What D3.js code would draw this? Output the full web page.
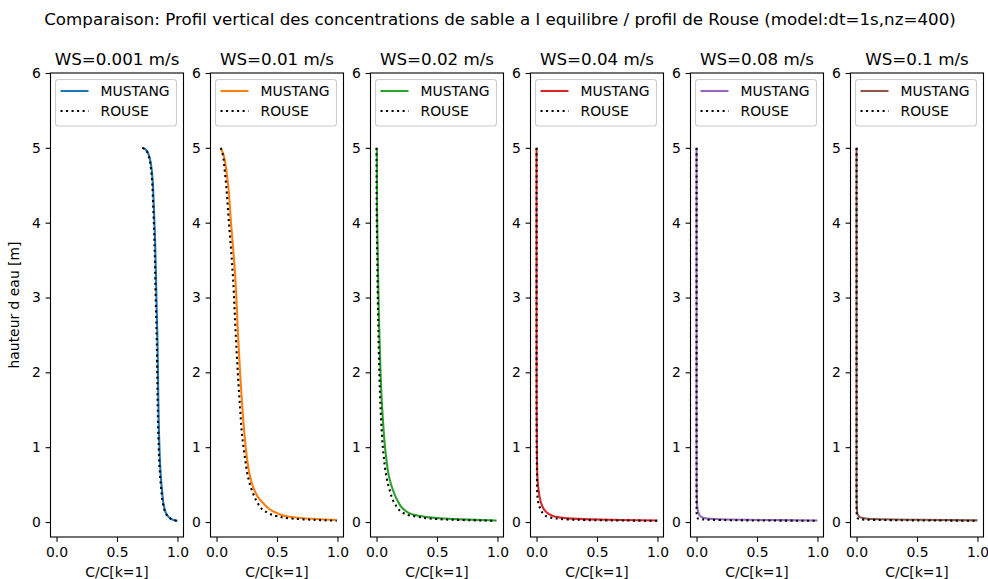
<!DOCTYPE html>
<html>
<head>
<meta charset="utf-8">
<script src="https://cdn.jsdelivr.net/npm/d3@7"></script>
<style>
  html, body { margin: 0; padding: 0; background: #fff; }
  svg { display: block; font-family: "DejaVu Sans", sans-serif; }
</style>
</head>
<body>
<svg id="chart" width="988" height="579"></svg>
<script>
// Settling velocities (one panel each) and line colours
const wsLabels = ["WS=0.001 m/s", "WS=0.01 m/s", "WS=0.02 m/s", "WS=0.04 m/s", "WS=0.08 m/s", "WS=0.1 m/s"];
const seriesColors = ["#1f77b4", "#ff7f0e", "#2ca02c", "#d62728", "#9467bd", "#8c564b"];
const xTicks = [0.0, 0.5, 1.0];
const yTicks = [0, 1, 2, 3, 4, 5, 6];
const legendLabels = ["MUSTANG", "ROUSE"];

// Profiles as [C/C[k=1], height (m)] pairs, surface to bed
const mustang_001 = [[0.709,5.0],[0.735,4.98],[0.764,4.9],[0.79,4.66],[0.805,4.2],[0.815,3.77],[0.826,3.0],[0.835,2.4],[0.842,1.6],[0.849,1.1],[0.859,0.7],[0.872,0.43],[0.888,0.22],[0.908,0.11],[0.932,0.06],[0.962,0.03],[1.0,0.015]];
const rouse_001   = [[0.709,5.0],[0.733,4.98],[0.76,4.9],[0.785,4.66],[0.8,4.2],[0.809,3.77],[0.82,3.0],[0.829,2.4],[0.836,1.6],[0.843,1.1],[0.853,0.7],[0.866,0.43],[0.884,0.22],[0.905,0.11],[0.93,0.06],[0.962,0.03],[1.0,0.015]];

const mustang_01 = [[0.035,5.0],[0.055,4.92],[0.084,4.66],[0.12,3.99],[0.153,3.32],[0.18,2.43],[0.213,1.54],[0.235,1.1],[0.252,0.85],[0.272,0.65],[0.3,0.48],[0.34,0.34],[0.387,0.25],[0.44,0.17],[0.498,0.12],[0.6,0.07],[0.718,0.05],[0.994,0.027]];
const rouse_01   = [[0.035,5.0],[0.05,4.92],[0.07,4.66],[0.103,3.99],[0.134,3.32],[0.161,2.43],[0.194,1.54],[0.215,1.1],[0.236,0.85],[0.258,0.62],[0.291,0.43],[0.335,0.27],[0.387,0.16],[0.44,0.11],[0.498,0.08],[0.6,0.05],[0.718,0.036],[0.994,0.017]];

const mustang_02 = [[0.002,5.0],[0.004,4.2],[0.008,3.77],[0.025,2.43],[0.046,1.54],[0.079,0.87],[0.104,0.6],[0.135,0.43],[0.175,0.28],[0.232,0.16],[0.3,0.1],[0.397,0.07],[0.55,0.047],[0.70,0.036],[0.99,0.02]];
const rouse_02   = [[0.0,5.0],[0.001,4.2],[0.004,3.77],[0.017,2.43],[0.033,1.54],[0.06,0.87],[0.08,0.62],[0.108,0.43],[0.15,0.25],[0.204,0.14],[0.27,0.09],[0.342,0.07],[0.5,0.04],[0.70,0.027],[0.99,0.017]];

const mustang_04 = [[0.0,5.0],[0.0,3.0],[0.001,1.5],[0.003,1.0],[0.006,0.65],[0.015,0.45],[0.025,0.34],[0.045,0.22],[0.066,0.16],[0.1,0.11],[0.149,0.075],[0.25,0.05],[0.45,0.035],[0.7,0.027],[1.0,0.02]];
const rouse_04   = [[0.0,5.0],[0.0,2.0],[0.001,1.1],[0.003,0.7],[0.005,0.43],[0.015,0.25],[0.038,0.16],[0.06,0.1],[0.093,0.07],[0.15,0.05],[0.3,0.032],[0.6,0.022],[1.0,0.017]];

const mustang_08 = [[0.0,5.0],[0.0,1.0],[0.001,0.5],[0.003,0.3],[0.006,0.2],[0.012,0.14],[0.03,0.08],[0.06,0.055],[0.15,0.04],[0.4,0.03],[0.7,0.025],[1.0,0.02]];
const rouse_08   = [[0.0,5.0],[0.0,0.5],[0.0,0.2],[0.001,0.12],[0.003,0.08],[0.01,0.05],[0.03,0.038],[0.2,0.027],[0.6,0.02],[1.0,0.017]];

const mustang_1 = [[0.0,5.0],[0.0,0.5],[0.002,0.2],[0.006,0.12],[0.02,0.075],[0.05,0.055],[0.15,0.04],[0.5,0.03],[1.0,0.022]];
const rouse_1   = [[0.0,5.0],[0.0,0.3],[0.001,0.1],[0.006,0.06],[0.02,0.04],[0.1,0.03],[0.5,0.022],[1.0,0.017]];

const mustangSeries = [mustang_001, mustang_01, mustang_02, mustang_04, mustang_08, mustang_1];
const rouseSeries = [rouse_001, rouse_01, rouse_02, rouse_04, rouse_08, rouse_1];

const svg = d3.select("#chart");
const FS = 13.9;          // tick/legend font size (10pt)
const TFS = 16.7;         // title font size (12pt)
const panelTop = 73, panelBottom = 537, panelW = 133;
const tickLen = 4.86, lw = 2.08;

svg.append("text")
  .attr("x", 500).attr("y", 25)
  .attr("text-anchor", "middle")
  .attr("font-size", TFS)
  .text("Comparaison: Profil vertical des concentrations de sable a l equilibre / profil de Rouse (model:dt=1s,nz=400)");

const y = d3.scaleLinear().domain([-0.2, 6]).range([panelBottom, panelTop]);

wsLabels.forEach((label, i) => {
  const left = 50.5 + 160 * i;
  const x = d3.scaleLinear().domain([-0.05, 1.05]).range([left, left + panelW]);
  const g = svg.append("g");

  // curves (height decreases monotonically along each profile)
  const line = d3.line().x(d => x(d[0])).y(d => y(d[1])).curve(d3.curveMonotoneY);
  g.append("path").datum(mustangSeries[i])
    .attr("d", line).attr("fill", "none")
    .attr("stroke", seriesColors[i]).attr("stroke-width", lw);
  g.append("path").datum(rouseSeries[i])
    .attr("d", line).attr("fill", "none")
    .attr("stroke", "#000").attr("stroke-width", lw)
    .attr("stroke-dasharray", "2.08,3.44");

  // axes
  const xAxis = d3.axisBottom(x).tickValues(xTicks).tickFormat(d3.format(".1f"))
    .tickSize(tickLen).tickPadding(4.86);
  const yAxis = d3.axisLeft(y).tickValues(yTicks).tickFormat(d3.format("d"))
    .tickSize(tickLen).tickPadding(4.86);
  const gx = g.append("g").attr("transform", `translate(0,${panelBottom})`).call(xAxis);
  const gy = g.append("g").attr("transform", `translate(${left},0)`).call(yAxis);
  [gx, gy].forEach(a => {
    a.select(".domain").remove();
    a.selectAll("line").attr("stroke", "#000").attr("stroke-width", 1.1);
    a.selectAll("text").attr("font-size", FS).attr("fill", "#000")
      .attr("font-family", "DejaVu Sans, sans-serif");
  });

  // frame
  g.append("rect")
    .attr("x", left).attr("y", panelTop)
    .attr("width", panelW).attr("height", panelBottom - panelTop)
    .attr("fill", "none").attr("stroke", "#000").attr("stroke-width", 1.1);

  // panel title
  g.append("text")
    .attr("x", left + panelW / 2).attr("y", 65)
    .attr("text-anchor", "middle").attr("font-size", TFS)
    .text(label);

  // x label
  g.append("text")
    .attr("x", left + panelW / 2).attr("y", 577)
    .attr("text-anchor", "middle").attr("font-size", FS)
    .text("C/C[k=1]");

  // legend
  const lg = g.append("g").attr("transform", `translate(${left + 5},79.5)`);
  lg.append("rect")
    .attr("width", 121).attr("height", 46.5).attr("rx", 3)
    .attr("fill", "#fff").attr("fill-opacity", 0.8)
    .attr("stroke", "#cccccc").attr("stroke-width", 1.1);
  legendLabels.forEach((t, k) => {
    const ly = 11.5 + k * 20;
    lg.append("line")
      .attr("x1", 5).attr("x2", 33).attr("y1", ly).attr("y2", ly)
      .attr("stroke", k === 0 ? seriesColors[i] : "#000")
      .attr("stroke-width", lw)
      .attr("stroke-dasharray", k === 0 ? null : "2.08,3.44");
    lg.append("text")
      .attr("x", 45).attr("y", ly + 5)
      .attr("font-size", FS)
      .text(t);
  });
});

// y axis label
svg.append("text")
  .attr("transform", `translate(19,305) rotate(-90)`)
  .attr("text-anchor", "middle").attr("font-size", FS)
  .text("hauteur d eau [m]");
</script>
</body>
</html>
